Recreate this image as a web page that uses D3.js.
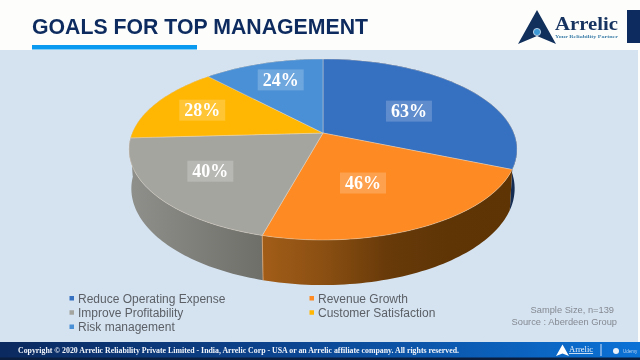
<!DOCTYPE html>
<html>
<head>
<meta charset="utf-8">
<script src="https://cdn.jsdelivr.net/npm/d3@7"></script>
<style>
    html, body { margin: 0; padding: 0; background: #fff; }
    svg { display: block; filter: blur(0.45px); }
</style>
</head>
<body>
<svg id="chart" width="640" height="360"></svg>
<script>
// chart values
const categories = ["Reduce Operating Expense", "Revenue Growth", "Improve Profitability", "Customer Satisfaction", "Risk management"];
const values = [63, 46, 40, 28, 24];
const topColors = ["#3670c0", "#fd8a22", "#a5a5a0", "#ffb703", "#4a90d6"];
const sideColors = [
    ["#1d3f73", "#152c52"],
    ["#a25d18", "#8a4f12", "#683a09", "#5f3506", "#5e3405"],
    ["#8f908b", "#6e6f69"],
    ["#8f908b", "#8f908b"],
    ["#2f5f90", "#2f5f90"]
];
const sourceLines = ["Sample Size, n=139", "Source : Aberdeen Group"];

// where each label sits: fraction of the radius along its slice, then a small nudge
const labelFrac = [0.6, 0.55, 0.69, 0.7, 0.71];
const labelNudge = [[-4, 5.5], [-10.5, 2.5], [-1.5, -3], [-2.5, -1], [2, -1.5]];

const svg = d3.select("#chart");
const defs = svg.append("defs");

// perspective of the tilted disc, fitted to the slice ends in the picture
const cx = 323, cy = 133;
const R = 190.8, S = 87.5, D = 38.7;
const kY = 0.182, kZ = 0.012;

// a = clockwise from the top, z = 0 on the top face, 1 on the bottom face
const project = (a, r, z) => {
    const x = Math.sin(a) * r, y = -Math.cos(a) * r;
    const w = 1 - kY * y + kZ * z;
    return [cx + R * x / w, cy + (S * y + D * z) / w];
};

const arcAngles = (a0, a1) => d3.range(0, 61).map((i) => a0 + (a1 - a0) * i / 60);
const line = d3.line();

const slices = d3.pie().sort(null)(values);

///////// background and header /////////
svg.append("rect").attr("width", 640).attr("height", 360).attr("fill", "#fdfefc");
svg.append("rect").attr("y", 50).attr("width", 638).attr("height", 292).attr("fill", "#d5e3f1");

svg.append("text")
    .attr("x", 32).attr("y", 34)
    .attr("font-family", "Liberation Sans").attr("font-weight", "bold").attr("font-size", 21.5)
    .attr("fill", "#0d2b5e")
    .attr("textLength", 336).attr("lengthAdjust", "spacingAndGlyphs")
    .text("GOALS FOR TOP MANAGEMENT");
svg.append("rect").attr("x", 32).attr("y", 45).attr("width", 165).attr("height", 4.5).attr("fill", "#0a9bf0");

// logo
const logo = svg.append("g");
logo.append("path").attr("d", "M537,10 L556,44 L537,36 L518,44 Z").attr("fill", "#12305c");
logo.append("circle").attr("cx", 537).attr("cy", 32).attr("r", 3.6).attr("fill", "#3d9ad6").attr("stroke", "#d5e3f1").attr("stroke-width", 0.8);
logo.append("text").attr("x", 555).attr("y", 29.5)
    .attr("font-family", "Liberation Serif").attr("font-weight", "bold").attr("font-size", 19)
    .attr("fill", "#17335f").attr("textLength", 63).attr("lengthAdjust", "spacingAndGlyphs").text("Arrelic");
logo.append("text").attr("x", 555).attr("y", 37.5)
    .attr("font-family", "Liberation Serif").attr("font-weight", "bold").attr("font-size", 4.5)
    .attr("fill", "#3f7fa8").attr("textLength", 63).attr("lengthAdjust", "spacingAndGlyphs").text("Your Reliability Partner");
svg.append("rect").attr("x", 627).attr("y", 10).attr("width", 13).attr("height", 33).attr("fill", "#0d2b5e");

///////// pie /////////
// side walls first, back slices before front ones; the top face covers the rest
const wallOrder = [4, 3, 0, 2, 1];
wallOrder.forEach((i) => {
    const d = slices[i];
    const pts = arcAngles(d.startAngle, d.endAngle);
    const top = pts.map((a) => project(a, 1, 0));
    const bottom = pts.map((a) => project(a, 1, 1)).reverse();
    const xs = top.map((p) => p[0]);
    const g = defs.append("linearGradient")
        .attr("id", "side" + i)
        .attr("gradientUnits", "userSpaceOnUse")
        .attr("x1", d3.min(xs)).attr("x2", d3.max(xs))
        .attr("y1", 0).attr("y2", 0);
    sideColors[i].forEach((c, j) => {
        g.append("stop").attr("offset", j / (sideColors[i].length - 1)).attr("stop-color", c);
    });
    svg.append("path")
        .attr("d", line(top.concat(bottom)) + "Z")
        .attr("fill", "url(#side" + i + ")");
});

// seam between gray and orange on the wall
svg.append("path")
    .attr("d", line([project(slices[1].endAngle, 1, 0), project(slices[1].endAngle, 1, 1)]))
    .attr("stroke", "#e9b07c").attr("stroke-width", 0.7).attr("fill", "none");

slices.forEach((d, i) => {
    const rim = arcAngles(d.startAngle, d.endAngle).map((a) => project(a, 1, 0));
    svg.append("path")
        .attr("d", line([[cx, cy]].concat(rim)) + "Z")
        .attr("fill", topColors[i])
        .attr("stroke", "#f3e3cf").attr("stroke-opacity", 0.55).attr("stroke-width", 0.7)
        .attr("stroke-linejoin", "round");
});

// percent labels on their pale boxes
slices.forEach((d, i) => {
    const p = project((d.startAngle + d.endAngle) / 2, labelFrac[i], 0);
    const lx = p[0] + labelNudge[i][0], ly = p[1] + labelNudge[i][1];
    svg.append("rect")
        .attr("x", lx - 23).attr("y", ly - 10.5)
        .attr("width", 46).attr("height", 21)
        .attr("fill", "#fff").attr("fill-opacity", 0.2);
    svg.append("text")
        .attr("x", lx).attr("y", ly + 6)
        .attr("text-anchor", "middle")
        .attr("font-family", "Liberation Serif").attr("font-weight", "bold").attr("font-size", 18)
        .attr("fill", "#fff")
        .text(d.value + "%");
});

///////// legend /////////
// three rows, left column takes the odd entries
const legendX = d3.scaleOrdinal().domain([0, 1]).range([78, 318]);
const legendY = d3.scalePoint().domain([0, 1, 2]).range([298, 326.5]);

const legend = svg.selectAll(".legend")
    .data(categories)
    .enter().append("g")
    .attr("class", "legend")
    .attr("transform", (d, i) => `translate(${legendX(i % 2)},${legendY(Math.floor(i / 2))})`);
legend.append("rect")
    .attr("x", -8.5).attr("y", -2).attr("width", 4.5).attr("height", 4.5)
    .attr("fill", (d, i) => topColors[i]);
legend.append("text")
    .attr("y", 4.5)
    .attr("font-family", "Liberation Sans").attr("font-size", 12)
    .attr("fill", "#5c6066")
    .text((d) => d);

svg.selectAll(".source")
    .data(sourceLines)
    .enter().append("text")
    .attr("class", "source")
    .attr("x", (d, i) => [614, 617][i])
    .attr("y", (d, i) => 312.5 + i * 12.8)
    .attr("text-anchor", "end")
    .attr("font-family", "Liberation Sans").attr("font-size", 9.3)
    .attr("fill", "#848991")
    .text((d) => d);

///////// footer /////////
const footGrad = defs.append("linearGradient").attr("id", "foot");
footGrad.append("stop").attr("offset", 0).attr("stop-color", "#0b2a5f");
footGrad.append("stop").attr("offset", 0.45).attr("stop-color", "#0c4590");
footGrad.append("stop").attr("offset", 1).attr("stop-color", "#0b72d6");
svg.append("rect").attr("y", 342).attr("width", 640).attr("height", 18).attr("fill", "url(#foot)");
svg.append("rect").attr("y", 357.5).attr("width", 640).attr("height", 2.5).attr("fill", "#0a1f3f");

svg.append("text")
    .attr("x", 18).attr("y", 353)
    .attr("font-family", "Liberation Serif").attr("font-weight", "bold").attr("font-size", 8)
    .attr("fill", "#f2f5fa")
    .attr("textLength", 441).attr("lengthAdjust", "spacingAndGlyphs")
    .text("Copyright © 2020 Arrelic Reliability Private Limited - India, Arrelic Corp -  USA or an Arrelic affiliate company.  All rights reserved.");

svg.append("path").attr("d", "M562.5,344.5 L569,356 L562.5,353.5 L556,356 Z").attr("fill", "#fff");
svg.append("text").attr("x", 569).attr("y", 352)
    .attr("font-family", "Liberation Serif").attr("font-size", 8.5).attr("fill", "#e8f0fa")
    .attr("text-decoration", "underline").text("Arrelic");
svg.append("rect").attr("x", 600.5).attr("y", 344).attr("width", 1).attr("height", 12).attr("fill", "#cfe0f5");
svg.append("circle").attr("cx", 616).attr("cy", 351).attr("r", 3).attr("fill", "#e8f0fa");
svg.append("text").attr("x", 623).attr("y", 353)
    .attr("font-family", "Liberation Sans").attr("font-size", 4.5).attr("fill", "#b9d3f0").text("Udemy");
</script>
</body>
</html>
